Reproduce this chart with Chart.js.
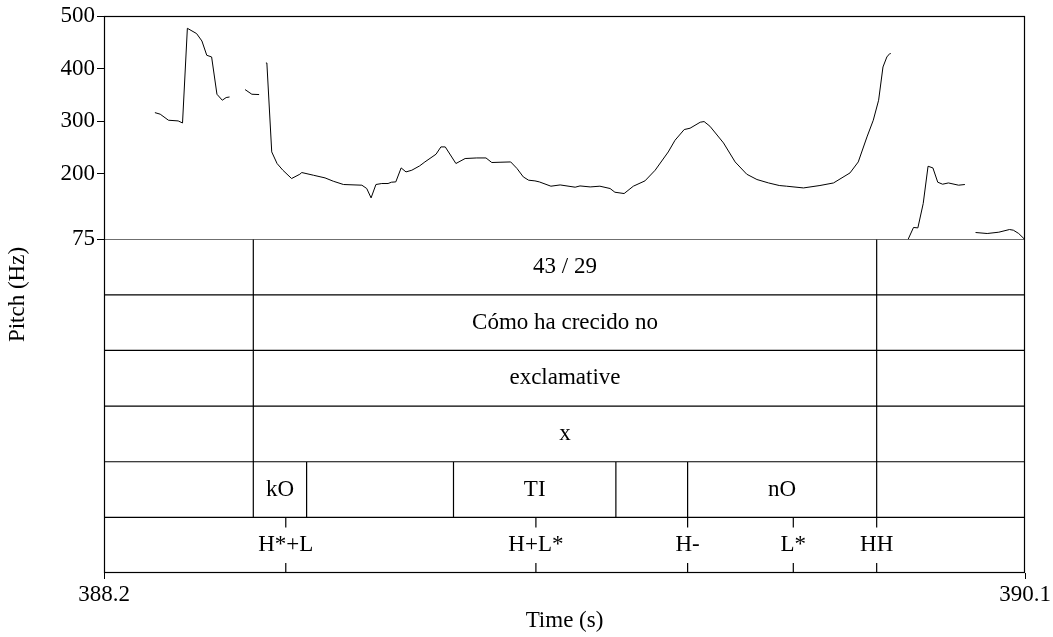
<!DOCTYPE html>
<html>
<head>
<meta charset="utf-8">
<script src="https://cdn.jsdelivr.net/npm/chart.js@4/dist/chart.umd.min.js"></script>
<style>
  html, body { margin: 0; padding: 0; background: #fff; }
  #wrap { width: 1053px; height: 637px; }
</style>
</head>
<body>
<div id="wrap"><canvas id="c" width="1053" height="637"></canvas></div>
<script>
// Time range and tick labels
const timeTicks = [388.2, 390.1];
const pitchTicks = [500, 400, 300, 200, 75];

// Pitch contour (s, Hz); null marks an unvoiced gap
const pitchT = [
  388.305, 388.316, 388.333, 388.353, 388.362, 388.372, 388.391, 388.402, 388.412, 388.422,
  388.433, 388.444, 388.452, 388.459, 388.46,
  388.491, 388.505, 388.520, 388.521,
  388.534, 388.536, 388.546, 388.557, 388.569, 388.587, 388.604, 388.608, 388.632, 388.656,
  388.673, 388.694, 388.732, 388.742, 388.751, 388.761, 388.773, 388.786, 388.793, 388.802,
  388.813, 388.823, 388.835, 388.851, 388.862, 388.885, 388.895, 388.904, 388.926, 388.945,
  388.969, 388.988, 389.000, 389.017, 389.039, 389.052, 389.065, 389.076, 389.089, 389.098,
  389.122, 389.141, 389.172, 389.182, 389.203, 389.223, 389.244, 389.254, 389.273, 389.292,
  389.316, 389.337, 389.364, 389.378, 389.397, 389.409, 389.430, 389.438, 389.450, 389.478,
  389.502, 389.526, 389.547, 389.571, 389.593, 389.608, 389.643, 389.677, 389.705, 389.739,
  389.756, 389.774, 389.787, 389.798, 389.807, 389.815, 389.821, 389.823, 389.824,
  389.859, 389.870, 389.879, 389.890, 389.900, 389.910, 389.920, 389.930, 389.942, 389.963,
  389.976, 389.977,
  389.998, 390.022, 390.046, 390.068, 390.076, 390.087, 390.099
];
const pitchHz = [
  316, 313, 301.5, 300.2, 296.3, 476.6, 466.5, 452.4, 425.2, 422,
  351, 339.6, 344.7, 345.8, null,
  359.9, 351, 350.4, null,
  410.5, 410.5, 241.2, 219.1, 206.3, 190.5, 198.7, 201.9, 196.8, 191.7,
  185.4, 179.1, 177.8, 171.5, 153.6, 179.1, 181, 181, 183.5, 184.1,
  210.7, 203.1, 206.3, 214.5, 222.1, 236.8, 250.7, 250.7, 219.1, 228.6,
  229.7, 229.7, 221, 221.5, 222.1, 209.6, 193.6, 187.3, 186, 184.1,
  175.9, 178.3, 174, 176.4, 174.5, 175.9, 171.5, 164.4, 161.9, 175.9,
  186, 206.3, 241.1, 263.4, 283.8, 286.3, 297.7, 299, 290.1, 258.3,
  222.1, 198.7, 188.6, 182.1, 177.2, 175.9, 172.6, 177.2, 182.1, 201.2,
  222.1, 269.7, 301.5, 339.6, 402.9, 422, 428.4, 428.4, null,
  75, 97.3, 96.5, 142.9, 213.9, 210.7, 183.5, 179.7, 182.1, 177.8,
  179.1, null,
  87.7, 85.8, 88.3, 93.4, 92.1, 85.8, 75
];

// TextGrid tiers
const tierTexts = ['43 / 29', 'Cómo ha crecido no', 'exclamative', 'x'];
const wordBounds = [388.508, 389.794];
const syllBounds = [388.508, 388.618, 388.921, 389.256, 389.404, 389.794];
const syllLabels = ['kO', '', 'TI', '', 'nO'];
const toneTimes = [388.575, 389.091, 389.404, 389.622, 389.794];
const toneLabels = ['H*+L', 'H+L*', 'H-', 'L*', 'HH'];

const FONT = '"Liberation Serif", "Times New Roman", serif';
const FSIZE = 23;
const tickMark = 0.18; // point-tier tick length in tier units

// Build line segments for tier borders
function tierLinePoints() {
  const pts = [];
  const gap = () => pts.push({ x: timeTicks[1], y: null });
  for (let r = 0; r < 6; r++) {
    pts.push({ x: timeTicks[0], y: r }, { x: timeTicks[1], y: r });
    gap();
  }
  wordBounds.forEach(t => { pts.push({ x: t, y: 0 }, { x: t, y: tierTexts.length }); gap(); });
  syllBounds.forEach(t => { pts.push({ x: t, y: 4 }, { x: t, y: 5 }); gap(); });
  toneTimes.forEach(t => {
    pts.push({ x: t, y: 5 }, { x: t, y: 5 + tickMark }); gap();
    pts.push({ x: t, y: 6 - tickMark }, { x: t, y: 6 }); gap();
  });
  return pts;
}

const tierPlugin = {
  id: 'tiers',
  afterDatasetsDraw(chart) {
    const { ctx, chartArea: a, scales } = chart;
    const x = scales.x, tier = scales.tier;
    ctx.save();
    ctx.fillStyle = '#000';
    ctx.font = FSIZE + 'px ' + FONT;
    ctx.textAlign = 'center';
    ctx.textBaseline = 'middle';
    const mid = (wordBounds[0] + wordBounds[1]) / 2;
    tierTexts.forEach((txt, i) => {
      ctx.fillText(txt, x.getPixelForValue(mid), tier.getPixelForValue(i + 0.5));
    });
    syllLabels.forEach((txt, i) => {
      if (!txt) return;
      const m = (syllBounds[i] + syllBounds[i + 1]) / 2;
      ctx.fillText(txt, x.getPixelForValue(m), tier.getPixelForValue(4.5));
    });
    toneLabels.forEach((txt, i) => {
      ctx.fillText(txt, x.getPixelForValue(toneTimes[i]), tier.getPixelForValue(5.5));
    });
    // frame
    ctx.strokeStyle = '#000';
    ctx.lineWidth = 1.2;
    ctx.strokeRect(a.left + 0.5, a.top + 0.5, a.width - 1, a.height - 1);
    // axis titles
    ctx.fillText('Time (s)', (a.left + a.right) / 2, 621);
    ctx.translate(18, (a.top + a.bottom) / 2);
    ctx.rotate(-Math.PI / 2);
    ctx.fillText('Pitch (Hz)', 0, 0);
    ctx.restore();
  }
};

const ctx = document.getElementById('c').getContext('2d');
new Chart(ctx, {
  type: 'scatter',
  data: {
    datasets: [
      {
        label: 'Pitch',
        data: pitchT.map((t, i) => ({ x: t, y: pitchHz[i] })),
        yAxisID: 'y',
        showLine: true,
        spanGaps: false,
        borderColor: '#000',
        borderWidth: 1,
        pointRadius: 0,
        tension: 0
      },
      {
        label: 'Tiers',
        data: tierLinePoints(),
        yAxisID: 'tier',
        showLine: true,
        spanGaps: false,
        borderColor: '#000',
        borderWidth: 1.2,
        pointRadius: 0,
        tension: 0
      }
    ]
  },
  options: {
    responsive: false,
    animation: false,
    devicePixelRatio: 1,
    layout: { padding: { top: 16, right: 28, left: 0, bottom: 0 } },
    plugins: { legend: { display: false }, tooltip: { enabled: false } },
    scales: {
      x: {
        type: 'linear',
        min: timeTicks[0],
        max: timeTicks[1],
        afterBuildTicks: s => { s.ticks = timeTicks.map(v => ({ value: v })); },
        afterFit: s => { s.height = 64; },
        ticks: {
          color: '#000',
          font: { family: FONT, size: FSIZE },
          padding: 2,
          maxRotation: 0,
          callback: v => v.toFixed(1)
        },
        grid: { drawOnChartArea: false, drawTicks: true, tickLength: 6, color: '#000' },
        border: { display: false }
      },
      tier: {
        type: 'linear',
        position: 'left',
        stack: 'v',
        stackWeight: 334,
        min: 0,
        max: 6,
        reverse: true,
        afterFit: s => { s.width = 104; },
        ticks: { display: false },
        grid: { display: false },
        border: { display: false }
      },
      y: {
        type: 'linear',
        position: 'left',
        stack: 'v',
        stackWeight: 223.3,
        min: 75,
        max: 500,
        afterBuildTicks: s => { s.ticks = pitchTicks.map(v => ({ value: v })); },
        afterFit: s => { s.width = 104; },
        ticks: {
          color: '#000',
          font: { family: FONT, size: FSIZE },
          padding: 2
        },
        grid: { drawOnChartArea: false, drawTicks: true, tickLength: 7, color: '#000' },
        border: { display: false }
      }
    }
  },
  plugins: [tierPlugin]
});
</script>
</body>
</html>
